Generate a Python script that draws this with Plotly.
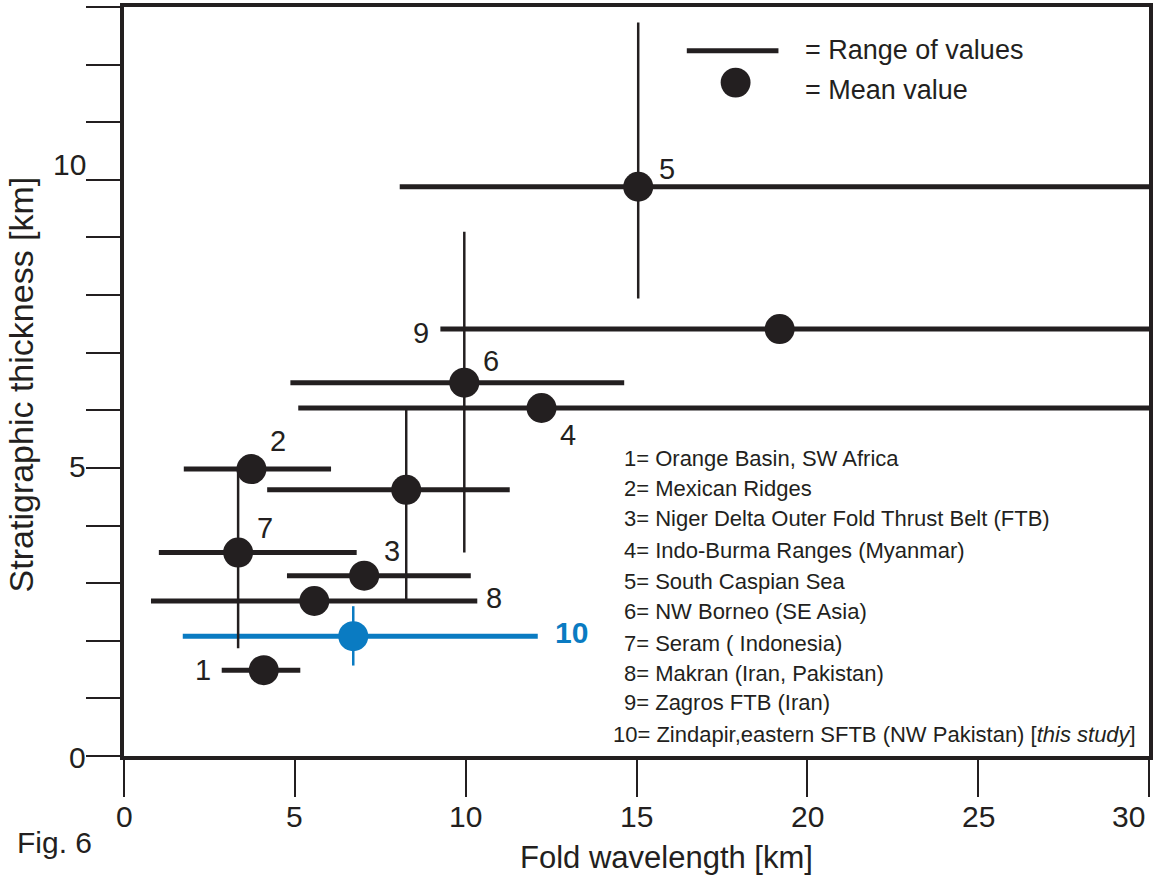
import plotly.graph_objects as go

# ---------------- data ----------------
site_labels = ["1", "2", "3", "4", "5", "6", "7", "8", "9", "", "10"]
mean_wavelength = [4.09, 3.73, 7.03, 12.22, 15.05, 9.96, 3.34, 5.57, 19.19, 8.26, 6.71]
mean_thickness = [1.49, 4.98, 3.13, 6.04, 9.88, 6.48, 3.53, 2.69, 7.41, 4.62, 2.08]
wavelength_min = [2.86, 1.75, 4.77, 5.10, 8.07, 4.87, 1.02, 0.79, 9.26, 4.19, 1.72]
wavelength_max = [5.16, 6.06, 10.15, 30.0, 30.0, 14.64, 6.81, 10.34, 30.0, 11.29, 12.11]
thickness_min = [None, None, None, None, 7.94, 3.53, 1.87, None, None, 2.70, 1.57]
thickness_max = [None, None, None, None, 12.73, 9.10, 4.95, None, None, 6.02, 2.60]

region_names = [
    "1= Orange Basin, SW Africa",
    "2= Mexican Ridges",
    "3= Niger Delta Outer Fold Thrust Belt (FTB)",
    "4= Indo-Burma Ranges (Myanmar)",
    "5= South Caspian Sea",
    "6= NW Borneo (SE Asia)",
    "7= Seram ( Indonesia)",
    "8= Makran (Iran, Pakistan)",
    "9= Zagros FTB (Iran)",
    "10= Zindapir,eastern SFTB (NW Pakistan) [<i>this study</i>]",
]

x_tick_values = [0, 5, 10, 15, 20, 25, 30]
x_tick_labels = ["0", "5", "10", "15", "20", "25", "30"]
y_tick_values = list(range(0, 14))
y_labelled_values = [0, 5, 10]
y_labelled_text = ["0", "5", "10"]

x_title = "Fold wavelength [km]"
y_title = "Stratigraphic thickness [km]"
legend_texts = ["= Range of values", "= Mean value"]
fig_label = "Fig. 6"

# ---------------- style ----------------
INK = "#231f20"
BLUE = "#0a7bc2"
FONT = "Liberation Sans, Arial, sans-serif"
series_colors = [BLUE if lab == "10" else INK for lab in site_labels]
# label placement: (anchor, xshift px, yshift px)
label_style = {
    "1": ("start", -9, 0),
    "2": ("dot", 27, 28),
    "3": ("dot", 28, 25),
    "4": ("dot", 26, -27),
    "5": ("dot", 29, 18),
    "6": ("dot", 27, 22),
    "7": ("dot", 27, 25),
    "8": ("end", 7, 3),
    "9": ("start", -9, -4),
    "10": ("end", 15, 4),
}
y_label_yshift = [-1, 1, 15]

W, H = 1156, 876
ML, MR, MT, MB = 124, 3, 3, 120
PW, PH = W - ML - MR, H - MT - MB


def px_x(px):
    return (px - ML) / PW


def px_y(py):
    return (H - MB - py) / PH


fig = go.Figure()

# horizontal ranges
for i in range(len(site_labels)):
    fig.add_trace(go.Scatter(
        x=[wavelength_min[i], wavelength_max[i]],
        y=[mean_thickness[i], mean_thickness[i]],
        mode="lines", line=dict(color=series_colors[i], width=5),
        hoverinfo="skip", showlegend=False))

# vertical ranges
for i in range(len(site_labels)):
    if thickness_min[i] is None:
        continue
    fig.add_trace(go.Scatter(
        x=[mean_wavelength[i], mean_wavelength[i]],
        y=[thickness_min[i], thickness_max[i]],
        mode="lines", line=dict(color=series_colors[i], width=2.5),
        hoverinfo="skip", showlegend=False))

# mean values
fig.add_trace(go.Scatter(
    x=mean_wavelength, y=mean_thickness, mode="markers",
    marker=dict(size=30, color=series_colors, line=dict(width=0)),
    showlegend=False))

annotations = []
for i, lab in enumerate(site_labels):
    if not lab:
        continue
    anchor, dx, dy = label_style[lab]
    if anchor == "start":
        ax, xa = wavelength_min[i], "right"
    elif anchor == "end":
        ax, xa = wavelength_max[i], "left"
    else:
        ax, xa = mean_wavelength[i], "center"
    is_blue = lab == "10"
    annotations.append(dict(
        x=ax, y=mean_thickness[i], xref="x", yref="y", text=f"<b>{lab}</b>" if is_blue else lab,
        showarrow=False, xanchor=xa, yanchor="middle", xshift=dx, yshift=dy,
        font=dict(family=FONT, size=30 if is_blue else 29, color=series_colors[i])))

# x tick labels
for v, t in zip(x_tick_values, x_tick_labels):
    last = v == x_tick_values[-1]
    annotations.append(dict(
        x=v, y=px_y(817), xref="x", yref="paper", text=t, showarrow=False,
        xanchor="right" if last else "center", yanchor="middle",
        xshift=-2 if last else 0,
        font=dict(family=FONT, size=30, color=INK)))

# y tick labels
for v, t, dy in zip(y_labelled_values, y_labelled_text, y_label_yshift):
    annotations.append(dict(
        x=px_x(88), y=v, xref="paper", yref="y", text=t, showarrow=False,
        xanchor="right", yanchor="middle", yshift=dy,
        font=dict(family=FONT, size=30, color=INK)))

# region list
region_rows = [457, 487, 517, 549, 581, 611, 643, 673, 702, 734]
for name, row in zip(region_names, region_rows):
    left = 613 if name.startswith("10") else 624
    annotations.append(dict(
        x=px_x(left), y=px_y(row), xref="paper", yref="paper", text=name,
        showarrow=False, xanchor="left", yanchor="middle",
        font=dict(family=FONT, size=22, color=INK)))

# legend key texts
for txt, row in zip(legend_texts, [46, 86]):
    annotations.append(dict(
        x=px_x(806), y=px_y(row), xref="paper", yref="paper", text=txt,
        showarrow=False, xanchor="left", yanchor="middle",
        font=dict(family=FONT, size=27, color=INK)))

# axis titles and figure label
annotations.append(dict(
    x=px_x(669), y=px_y(858), xref="paper", yref="paper", text=x_title,
    showarrow=False, xanchor="center", yanchor="middle",
    font=dict(family=FONT, size=31, color=INK)))
annotations.append(dict(
    x=px_x(21), y=px_y(382), xref="paper", yref="paper", text=y_title,
    showarrow=False, xanchor="center", yanchor="middle", textangle=-90,
    font=dict(family=FONT, size=34, color=INK)))
annotations.append(dict(
    x=px_x(54), y=px_y(843), xref="paper", yref="paper", text=fig_label,
    showarrow=False, xanchor="center", yanchor="middle",
    font=dict(family=FONT, size=30, color=INK)))

shapes = [
    dict(type="line", xref="paper", yref="paper",
         x0=px_x(689), x1=px_x(781), y0=px_y(47), y1=px_y(47),
         line=dict(color=INK, width=5)),
    dict(type="circle", xref="paper", yref="paper",
         x0=px_x(738 - 15), x1=px_x(738 + 15), y0=px_y(79 + 15), y1=px_y(79 - 15),
         fillcolor=INK, line=dict(width=0)),
]

axis_common = dict(
    showline=True, linecolor=INK, linewidth=4, mirror=True,
    showgrid=False, zeroline=False, ticks="outside", tickcolor=INK, tickwidth=2,
    showticklabels=False,
)

fig.update_layout(
    width=W, height=H,
    margin=dict(l=ML, r=MR, t=MT, b=MB, pad=0),
    paper_bgcolor="white", plot_bgcolor="white",
    xaxis=dict(range=[0, 30], tickvals=x_tick_values, ticklen=37, **axis_common),
    yaxis=dict(range=[0, 13.0], tickvals=y_tick_values, ticklen=34, **axis_common),
    annotations=annotations,
    shapes=shapes,
    showlegend=False,
)

fig.write_html("out.html")
